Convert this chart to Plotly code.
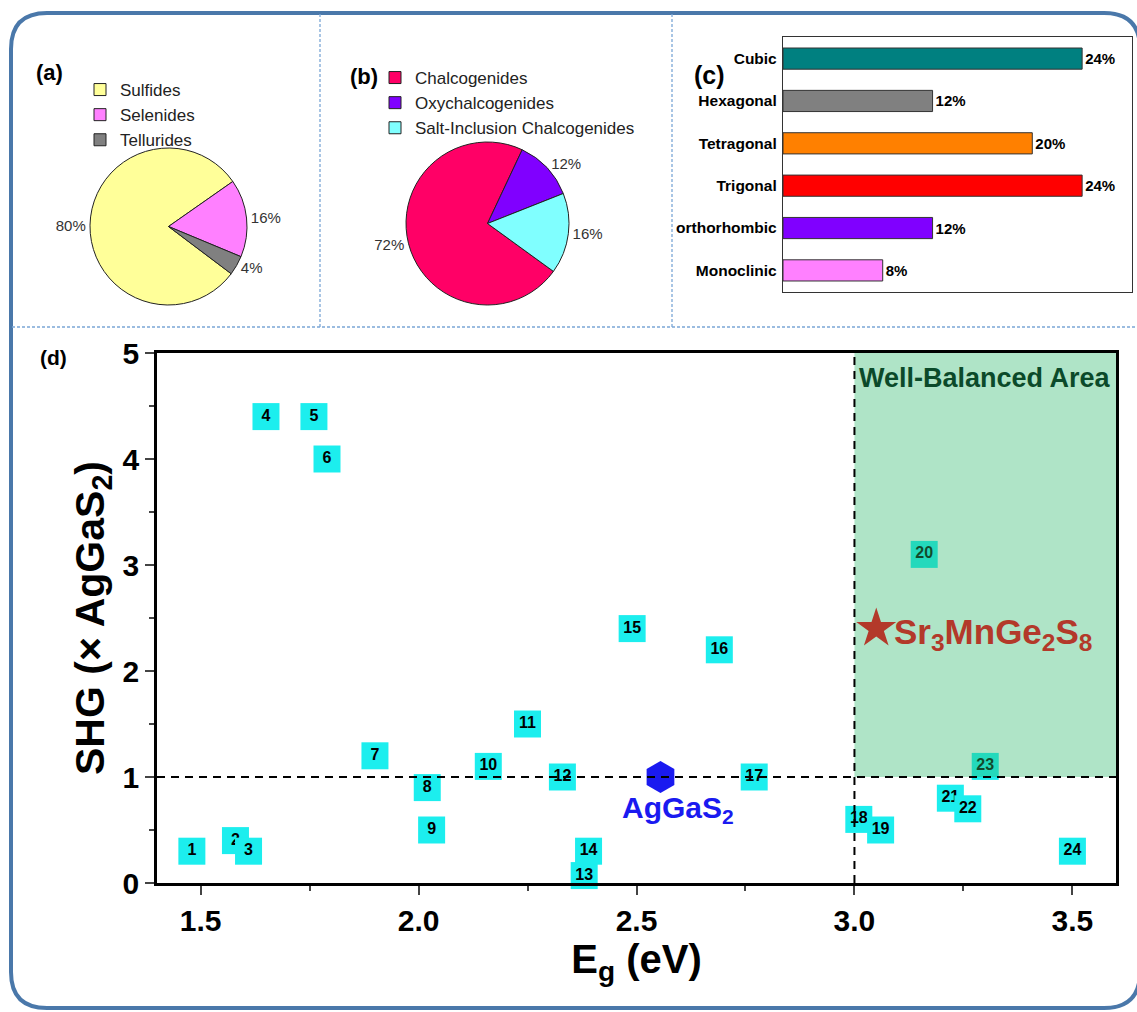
import plotly.graph_objects as go

W, H = 1137, 1012
FONT = "Arial, Liberation Sans, Helvetica, sans-serif"


def px(x):
    return x / W


def py(y):
    return 1 - y / H


# ---------------- data ----------------
# (a) anion types
anion_labels = ["Sulfides", "Selenides", "Tellurides"]
anion_values = [80, 16, 4]
anion_colors = ["#FFFF99", "#FF80FF", "#808080"]

# (b) compound families
family_labels = ["Chalcogenides", "Oxychalcogenides", "Salt-Inclusion Chalcogenides"]
family_values = [72, 12, 16]
family_colors = ["#FF0066", "#8000FF", "#80FFFF"]

# (c) crystal systems
crystal_systems = ["Cubic", "Hexagonal", "Tetragonal", "Trigonal", "orthorhombic", "Monoclinic"]
crystal_pct = [24, 12, 20, 24, 12, 8]
crystal_colors = ["#008080", "#808080", "#FF8000", "#FF0000", "#8000FF", "#FF80FF"]

# (d) band gap vs SHG
compound_ids = [str(i) for i in range(1, 25)]
eg = [1.48, 1.58, 1.61, 1.65, 1.76, 1.79, 1.90, 2.02, 2.03, 2.16, 2.25, 2.33,
      2.38, 2.39, 2.49, 2.69, 2.77, 3.01, 3.06, 3.16, 3.22, 3.26, 3.30, 3.50]
shg = [0.30, 0.40, 0.30, 4.40, 4.40, 4.00, 1.20, 0.90, 0.50, 1.10, 1.50, 1.00,
       0.07, 0.30, 2.40, 2.20, 1.00, 0.60, 0.50, 3.10, 0.80, 0.70, 1.10, 0.30]
ref_name = "AgGaS<sub>2</sub>"
ref_eg, ref_shg = 2.555, 1.0
new_name = "Sr<sub>3</sub>MnGe<sub>2</sub>S<sub>8</sub>"
new_eg, new_shg = 3.05, 2.40
eg_threshold = 3.0
shg_threshold = 1.0
eg_range = [1.4, 3.6]
shg_range = [0, 5]

fig = go.Figure()

# ---------------- (a) pie ----------------
fig.add_trace(go.Pie(
    labels=anion_labels, values=anion_values, sort=False, direction="clockwise",
    rotation=127, marker=dict(colors=anion_colors, line=dict(color="#222222", width=1)),
    texttemplate="%{value}%", textposition="outside",
    textfont=dict(family=FONT, size=15, color="#333333"),
    domain=dict(x=[px(25), px(312)], y=[py(305), py(148)]),
    legend="legend", hoverinfo="skip"))

# ---------------- (b) pie ----------------
fig.add_trace(go.Pie(
    labels=family_labels, values=family_values, sort=False, direction="clockwise",
    rotation=126, marker=dict(colors=family_colors, line=dict(color="#222222", width=1)),
    texttemplate="%{value}%", textposition="outside",
    textfont=dict(family=FONT, size=15, color="#333333"),
    domain=dict(x=[px(335), px(640)], y=[py(305), py(142)]),
    legend="legend2", hoverinfo="skip"))

# ---------------- (c) bars ----------------
fig.add_trace(go.Bar(
    y=crystal_systems, x=crystal_pct, orientation="h",
    marker=dict(color=crystal_colors, line=dict(color="#333333", width=1)),
    width=0.5, text=[f"{v}%" for v in crystal_pct], textposition="outside",
    textfont=dict(family=FONT, size=15, color="black", weight="bold"),
    cliponaxis=False, xaxis="x2", yaxis="y2", showlegend=False, hoverinfo="skip"))

# ---------------- (d) scatter ----------------
for cid, x, y in zip(compound_ids, eg, shg):
    fig.add_trace(go.Scatter(
        x=[x], y=[y], mode="markers+text", text=[cid], textposition="middle center",
        marker=dict(symbol="square", size=27, color="#1CEEEE"),
        textfont=dict(family=FONT, size=16, color="black", weight="bold"),
        showlegend=False, hoverinfo="skip", cliponaxis=False))

# well-balanced region (semi-transparent, over the boxes)
fig.add_trace(go.Scatter(
    x=[eg_threshold, eg_range[1], eg_range[1], eg_threshold, eg_threshold],
    y=[shg_threshold, shg_threshold, shg_range[1], shg_range[1], shg_threshold],
    mode="lines", fill="toself", fillcolor="rgba(50,185,110,0.39)",
    line=dict(width=0), showlegend=False, hoverinfo="skip"))

# reference AgGaS2
fig.add_trace(go.Scatter(
    x=[ref_eg], y=[ref_shg], mode="markers",
    marker=dict(symbol="hexagon", size=32, color="#1A1AF0"),
    showlegend=False, hoverinfo="skip"))

# threshold dashed lines
fig.add_trace(go.Scatter(
    x=eg_range, y=[shg_threshold, shg_threshold], mode="lines",
    line=dict(color="black", width=2, dash="8px,6px"), showlegend=False, hoverinfo="skip"))
fig.add_trace(go.Scatter(
    x=[eg_threshold, eg_threshold], y=shg_range, mode="lines",
    line=dict(color="black", width=2, dash="8px,6px"), showlegend=False, hoverinfo="skip"))

# new compound
fig.add_trace(go.Scatter(
    x=[new_eg], y=[new_shg], mode="markers",
    marker=dict(symbol="star", size=30, color="#B3392A"),
    showlegend=False, hoverinfo="skip"))

# ---------------- shapes ----------------
L, R, T, B, r = 11, 1140, 13, 1008, 36
path = (f"M {px(L)},{py(T + r)} Q {px(L)},{py(T)} {px(L + r)},{py(T)} "
        f"L {px(R - r)},{py(T)} Q {px(R)},{py(T)} {px(R)},{py(T + r)} "
        f"L {px(R)},{py(B - r)} Q {px(R)},{py(B)} {px(R - r)},{py(B)} "
        f"L {px(L + r)},{py(B)} Q {px(L)},{py(B)} {px(L)},{py(B - r)} Z")
shapes = [
    dict(type="path", path=path, xref="paper", yref="paper",
         line=dict(color="#4A78AA", width=4), layer="above"),
    dict(type="line", xref="paper", yref="paper", x0=px(320), x1=px(320), y0=py(14), y1=py(327),
         line=dict(color="#7BA7D6", width=1.3, dash="3px,2px")),
    dict(type="line", xref="paper", yref="paper", x0=px(672), x1=px(672), y0=py(14), y1=py(327),
         line=dict(color="#7BA7D6", width=1.3, dash="3px,2px")),
    dict(type="line", xref="paper", yref="paper", x0=px(12), x1=px(1137), y0=py(327), y1=py(327),
         line=dict(color="#7BA7D6", width=1.3, dash="3px,2px")),
]

bold = dict(family=FONT, color="black", weight="bold")
annotations = [
    dict(text="(a)", x=px(34), y=py(58), xref="paper", yref="paper", showarrow=False,
         font=dict(bold, size=22)),
    dict(text="(b)", x=px(348), y=py(62), xref="paper", yref="paper", showarrow=False,
         font=dict(bold, size=22)),
    dict(text="(c)", x=px(709), y=py(59), xref="paper", yref="paper", showarrow=False,
         font=dict(bold, size=25)),
    dict(text="(d)", x=px(38), y=py(358), xref="paper", yref="paper", showarrow=False,
         font=dict(bold, size=21)),
    dict(text="Well-Balanced Area", x=(eg_threshold + eg_range[1]) / 2, y=4.76, xref="x", yref="y",
         showarrow=False, font=dict(family=FONT, size=27, color="#0B4A2A", weight="bold")),
    dict(text=ref_name, x=ref_eg + 0.04, y=ref_shg - 0.31, xref="x", yref="y", showarrow=False,
         font=dict(family=FONT, size=30, color="#1A1AF0", weight="bold")),
    dict(text=new_name, x=new_eg + 0.035, y=new_shg - 0.05, xref="x", yref="y", showarrow=False,
         xanchor="left", font=dict(family=FONT, size=35, color="#B3392A", weight="bold")),
]

axis_common = dict(showline=True, linecolor="black", mirror=True, showgrid=False,
                   zeroline=False, automargin=False)

fig.update_layout(
    width=W, height=H, margin=dict(l=0, r=0, t=0, b=0, pad=0, autoexpand=False),
    paper_bgcolor="white", plot_bgcolor="white",
    font=dict(family=FONT, color="black"),
    shapes=shapes, annotations=annotations,
    xaxis=dict(axis_common, domain=[px(157), px(1116)], range=eg_range,
               tick0=1.5, dtick=0.5, tickformat=".1f", ticks="outside", ticklen=9, tickwidth=2,
               linewidth=2.5, minor=dict(dtick=0.25, ticks="outside", ticklen=5, tickwidth=2),
               tickfont=dict(family=FONT, size=30, color="black", weight="bold"),
               title=dict(text="<b>E<sub>g</sub> (eV)</b>", standoff=2,
                          font=dict(family=FONT, size=40, color="black"))),
    yaxis=dict(axis_common, domain=[py(883), py(353)], range=shg_range,
               dtick=1, ticks="outside", ticklen=9, tickwidth=2, linewidth=2.5,
               minor=dict(dtick=0.5, ticks="outside", ticklen=5, tickwidth=2),
               tickfont=dict(family=FONT, size=30, color="black", weight="bold"),
               title=dict(text="<b>SHG (× AgGaS<sub>2</sub>)</b>", standoff=6,
                          font=dict(family=FONT, size=41, color="black"))),
    xaxis2=dict(axis_common, domain=[px(783), px(1132)], range=[0, 28], anchor="y2",
                linewidth=1.3, linecolor="#333333", showticklabels=False, ticks=""),
    yaxis2=dict(axis_common, domain=[py(292), py(37)], range=[5.51, -0.51], anchor="x2",
                type="category", linewidth=1.3, linecolor="#333333", ticks="",
                ticklabelstandoff=2,
                tickfont=dict(family=FONT, size=15.5, color="black", weight="bold")),
    legend=dict(x=px(80), y=py(72), xanchor="left", yanchor="top", bgcolor="rgba(0,0,0,0)",
                font=dict(family=FONT, size=17, color="#222222"), tracegroupgap=0,
                itemclick=False),
    legend2=dict(x=px(375), y=py(60), xanchor="left", yanchor="top", bgcolor="rgba(0,0,0,0)",
                 font=dict(family=FONT, size=17, color="#222222"), tracegroupgap=0,
                 itemclick=False),
)

fig.write_html("out.html")
